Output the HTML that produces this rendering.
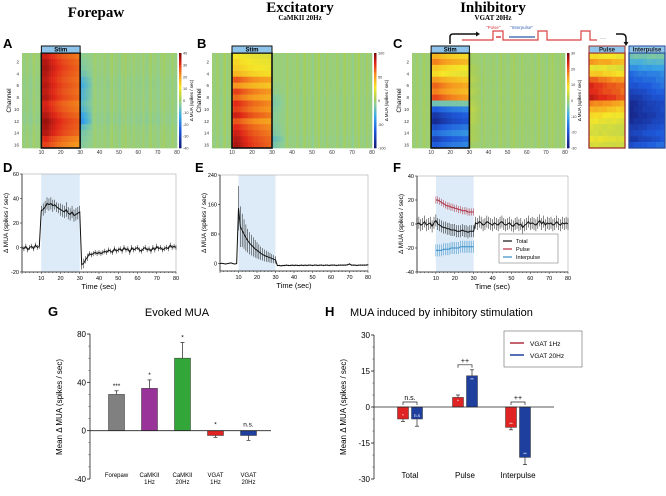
<!DOCTYPE html>
<html><head><meta charset="utf-8">
<style>
html,body{margin:0;padding:0;background:#fff;}
svg{display:block;font-family:"Liberation Sans",sans-serif;}
.ttl{font-family:"Liberation Serif",serif;font-weight:bold;}
</style></head>
<body>
<svg id="fig" width="666" height="496" viewBox="0 0 666 496" xmlns="http://www.w3.org/2000/svg">
<text class="ttl" x="96" y="17" font-size="15" text-anchor="middle">Forepaw</text>
<text class="ttl" x="300" y="12" font-size="15" text-anchor="middle">Excitatory</text>
<text class="ttl" x="300" y="20" font-size="7" text-anchor="middle">CaMKII 20Hz</text>
<text class="ttl" x="493" y="12" font-size="15" text-anchor="middle">Inhibitory</text>
<text class="ttl" x="493" y="20" font-size="7" text-anchor="middle">VGAT 20Hz</text>
<g font-weight="bold" font-size="13">
<text x="3" y="48">A</text>
<text x="197" y="48">B</text>
<text x="393" y="48">C</text>
<text x="3" y="172">D</text>
<text x="195" y="172">E</text>
<text x="393" y="172">F</text>
<text x="48" y="316">G</text>
<text x="325" y="316">H</text>
</g>
<text x="177" y="316" font-size="11" text-anchor="middle">Evoked MUA</text>
<text x="350" y="316" font-size="11">MUA induced by inhibitory stimulation</text>
<g>
<polyline points="462,40 493,40 493,31 503,31 503,40 538,40 538,31 547,31 547,40 581,40 581,31 590,31 590,40 597,40" fill="none" stroke="#d94040" stroke-width="1.2"/>
<text x="600" y="40" font-size="6" fill="#555">···</text>
<text x="486" y="29" font-size="4.5" fill="#d94040">"Pulse"</text>
<text x="510" y="29" font-size="4.5" fill="#3a66b8">"Interpulse"</text>
<line x1="496" y1="37" x2="501" y2="37" stroke="#d94040" stroke-width="1.5"/>
<line x1="509" y1="37" x2="535" y2="37" stroke="#2a5aaa" stroke-width="1.2"/>
<path d="M450,44 L450,37 Q450,34 453,34 L476,34" fill="none" stroke="#111" stroke-width="1.5"/>
<polygon points="476,31.5 480,34 476,36.5" fill="#111"/>
<path d="M616,34 L622,34 Q626,34 626,38 L626,42" fill="none" stroke="#111" stroke-width="1.5"/>
<polygon points="623.5,42 626,46 628.5,42" fill="#111"/>
</g>
<g id="heat"></g>
<g id="lines"></g>
<g id="bars"></g>
</svg>
<script>
const channels = [1,2,3,4,5,6,7,8,9,10,11,12,13,14,15,16];
const chanTicks = [2,4,6,8,10,12,14,16];
const timeTicks = [10,20,30,40,50,60,70,80];
const aStim = [34,36,37,36,35,36,35,36,33,34,36,38,37,36,32,30];
const aPost = [-2,-3,-4,-6,-10,-12,-10,-10,-8,-10,-14,-16,-8,-5,-4,-3];
const bStim = [30,35,38,45,70,55,75,65,80,75,85,70,80,85,90,92];
const bPost = [0,0,0,0,0,-2,-3,-8,-10,-8,-6,-6,-8,-10,-18,-12];
const cStim = [14,18,12,10,16,20,18,22,-4,-18,-24,-26,-20,-16,-22,-18];
const cPost = [1,1,2,2,3,2,3,2,3,4,3,3,2,2,2,1];
const pulseVals = [10,16,8,12,20,24,24,26,18,14,10,8,6,6,8,6];
const interVals = [-4,-8,-12,-16,-18,-20,-22,-24,-26,-26,-27,-26,-24,-22,-24,-20];
const stimShape = [0.95,1,1,0.98,0.95,0.92,0.9,0.88,0.85,0.84,0.82,0.8,0.8,0.78,0.77,0.76,0.75,0.74,0.73,0.72];
const stripe = [0.2,-0.3,0.6,0.1,-0.5,0.3,0.9,-0.2,0.4,0,-0.6,0.5,0.2,1,-0.1,0.3,-0.4,0.7,0.1,-0.2];
const NS='http://www.w3.org/2000/svg';
function mk(tag,attrs,parent){const e=document.createElementNS(NS,tag);for(const k in attrs)e.setAttribute(k,attrs[k]);parent.appendChild(e);return e;}
function lin(d0,d1,r0,r1){return v=>r0+(v-d0)*(r1-r0)/(d1-d0);}
const cmapStops=[[-1,[20,20,110]],[-0.6,[30,90,220]],[-0.3,[60,170,230]],[-0.05,[140,205,150]],[0.05,[168,206,90]],[0.3,[245,230,40]],[0.55,[245,150,30]],[0.8,[225,40,25]],[1,[130,10,10]]];
function cmap(v){v=Math.max(-1,Math.min(1,v));for(let i=1;i<cmapStops.length;i++){if(v<=cmapStops[i][0]){const a=cmapStops[i-1],b=cmapStops[i];const f=(v-a[0])/(b[0]-a[0]);const c=a[1].map((x,j)=>Math.round(x+(b[1][j]-x)*f));return `rgb(${c})`;}}return 'rgb(130,10,10)';}
const heat=document.getElementById('heat');
function heatmap(name,x0,x1,y0,y1,stim,post,range,cbTicks){
  const g=mk('g',{},heat);
  
  
  const xs=lin(0,80,x0,x1), ys=lin(0.5,16.5,y0,y1);
  for(const c of channels){
    for(let t=0;t<80;t++){
      let v;
      if(t>=10&&t<30) v=stim[c-1]*stimShape[t-10];
      else if(t>=30&&t<36) v=post[c-1]*(1-(t-30)/8);
      else v=post[c-1]*0.08+stripe[t%20]*range*0.05;
      const r=mk('rect',{x:xs(t),y:ys(c-0.5),width:xs(t+1)-xs(t)+0.3,height:ys(c+0.5)-ys(c-0.5)+0.3,fill:cmap(v/range)},g);
      
      
    }
  }
  const sb=mk('rect',{x:xs(10),y:y0,width:xs(30)-xs(10),height:y1-y0,fill:'none',stroke:'#111','stroke-width':1.6},g);
  
  
  mk('rect',{x:xs(10),y:y0-7,width:xs(30)-xs(10),height:7,fill:'#8ec3ea',stroke:'#111','stroke-width':1},g);
  const st=mk('text',{x:(xs(10)+xs(30))/2,y:y0-1.5,'font-size':6,'font-weight':'bold','text-anchor':'middle'},g);st.textContent='Stim';
  
  
  for(const c of chanTicks){const t=mk('text',{x:x0-3,y:ys(c)+1.5,'font-size':4.5,'text-anchor':'end',fill:'#333'},g);t.textContent=c;}
  for(const tt of timeTicks){const t=mk('text',{x:xs(tt),y:y1+6,'font-size':5,'text-anchor':'middle',fill:'#333'},g);t.textContent=tt;}
  const ch=mk('text',{transform:`translate(${x0-11},${(y0+y1)/2}) rotate(-90)`,'font-size':6.5,'text-anchor':'middle'},g);ch.textContent='Channel';
  const cbx=x1+2;
  for(let i=0;i<40;i++){const v=1-i/20;mk('rect',{x:cbx,y:y0+i*(y1-y0)/40,width:2.5,height:(y1-y0)/40+0.3,fill:cmap(v)},g);}
  cbTicks.forEach((v,i)=>{const t=mk('text',{x:cbx+4,y:y0+i*(y1-y0)/(cbTicks.length-1)+1.5,'font-size':3.8,fill:'#333'},g);t.textContent=v;});
  const cl=mk('text',{transform:`translate(${cbx+14},${(y0+y1)/2}) rotate(-90)`,'font-size':4.5,'text-anchor':'middle'},g);cl.textContent='Δ MUA (spikes / sec)';
}
heatmap('heatmap-forepaw',22,177,53,148,aStim,aPost,40,[40,30,20,10,0,-10,-20,-30,-40]);
heatmap('heatmap-excitatory',212,372,53,148,bStim,bPost,100,[100,50,0,-50,-100]);
heatmap('heatmap-inhibitory',412,565,53,148,cStim,cPost,30,[30,20,10,0,-10,-20,-30]);
function sidePanel(name,label,x0,x1,vals,frame){
  const g=mk('g',{},heat);
  
  
  const ys=lin(0.5,16.5,53,148);
  for(const c of channels){for(let k=0;k<8;k++){const v=vals[c-1]*(1-k*0.03)+stripe[(k+c)%20]*0.8;mk('rect',{x:x0+k*(x1-x0)/8,y:ys(c-0.5),width:(x1-x0)/8+0.3,height:ys(c+0.5)-ys(c-0.5)+0.3,fill:cmap(v/30)},g);}}
  mk('rect',{x:x0,y:53,width:x1-x0,height:95,fill:'none',stroke:frame,'stroke-width':1.3},g);
  mk('rect',{x:x0,y:46,width:x1-x0,height:7,fill:'#8ec3ea',stroke:frame,'stroke-width':1},g);
  const t=mk('text',{x:(x0+x1)/2,y:51.5,'font-size':6,'font-weight':'bold','text-anchor':'middle',fill:'#222'},g);t.textContent=label;
}
sidePanel('pulse-heatmap','Pulse',589,625,pulseVals,'#a0302a');
sidePanel('interpulse-heatmap','Interpulse',629,665,interVals,'#2a4a9a');

const dMean=[0,-1,1,-2,0,1,-1,2,0,1, 30,31,33,36,35,36,34,35,33,32,31,30,29,31,28,27,29,26,27,28,29, -14,-13,-10,-8,-5,-6,-5,-4,-5,-4, -5,-4,-3,-4,-2,-3,-4,-1,-3,-2, -1,-3,0,-2,-1,-4,0,-2,-1,0, -2,-3,-1,0,-2,-1,-3,0,-2,1, -1,0,-2,-1,0,-1,2,0,1,0];
const dErr=[2,2,2,2,2,2,2,2,2,2, 4,5,5,5,5,5,5,4,4,4,5,5,5,6,5,5,5,5,5,5,5, 4,4,3,3,2,2,2,2,2,2, 2,2,2,2,2,2,2,2,2,2, 2,2,2,2,2,2,2,2,2,2, 2,2,2,2,2,2,2,2,2,2, 2,2,2,2,2,2,2,2,2,2];
const eMean=[0,1,0,-1,0,1,2,0,-1,0, 150,100,90,80,70,62,55,50,45,40,36,32,28,25,22,20,18,16,14,12,10, -5,-5,-6,-5,-5,-4,-5,-5,-4,-5, -4,-5,-5,-4,-5,-4,-5,-4,-4,-5, -4,-4,-5,-4,-4,-5,-4,-4,-5,-4, -4,-4,-5,-4,-4,-4,-4,-4,-3,-1, -4,-4,-4,-5,-4,-4,-4,-4,-4,-3];
const eErr=[1,1,1,1,1,1,1,1,1,1, 60,55,45,40,36,32,30,28,26,24,22,20,18,17,16,15,14,13,12,11,10, 2,2,2,2,2,2,2,2,2,2, 2,2,2,2,2,2,2,2,2,2, 2,2,2,2,2,2,2,2,2,2, 2,2,2,2,2,2,2,2,2,2, 2,2,2,2,2,2,2,2,2,2];
const fTotal=[0,1,-1,0,2,-1,0,1,-2,1, 3,0,-1,-2,-3,-3,-4,-4,-5,-5,-5,-6,-6,-6,-5,-6,-6,-7,-6,-6,-6, 1,0,2,1,-1,0,2,1,0,-1, 1,0,-1,1,2,0,-1,0,1,-1, -2,0,1,-1,0,-3,-1,0,2,0, 1,0,-1,1,3,0,2,-1,1,0, 1,-1,0,2,0,-1,1,0,1,0];
const fPulse=[20,20,19,18,17,16,15,15,14,14,13,13,12,12,11,11,11,10,10,10,10];
const fInter=[-22,-22,-22,-22,-21,-21,-21,-21,-20,-20,-20,-20,-20,-19,-19,-19,-19,-19,-19,-19,-19];
const fErrTot=5, fErrPulse=3, fErrInter=5;
const lines=document.getElementById('lines');
function linePlot(name,x0,x1,ymin,ymax,py0,py1,yticks,label){
  const g=mk('g',{},lines);
  
  
  const xs=lin(0,80,x0,x1), ys=lin(ymin,ymax,py1,py0);
  mk('rect',{x:xs(10),y:py0,width:xs(30)-xs(10),height:py1-py0,fill:'#dcebf7'},g);
  mk('rect',{x:x0,y:py0,width:x1-x0,height:py1-py0,fill:'none',stroke:'#aaa','stroke-width':0.6},g);
  mk('line',{x1:x0,y1:py0,x2:x0,y2:py1,stroke:'#222','stroke-width':0.8},g);
  mk('line',{x1:x0,y1:py1,x2:x1,y2:py1,stroke:'#222','stroke-width':0.8},g);
  for(const v of yticks){mk('line',{x1:x0-2,y1:ys(v),x2:x0,y2:ys(v),stroke:'#222','stroke-width':0.6},g);const t=mk('text',{x:x0-3,y:ys(v)+2,'font-size':5.5,'text-anchor':'end'},g);t.textContent=v;}
  for(let t=0;t<=80;t+=2){mk('line',{x1:xs(t),y1:py1,x2:xs(t),y2:py1+(t%10?1:2),stroke:'#222','stroke-width':0.5},g);}
  for(const v of timeTicks){const t=mk('text',{x:xs(v),y:py1+8,'font-size':5.5,'text-anchor':'middle'},g);t.textContent=v;}
  const tl=mk('text',{x:(x0+x1)/2,y:py1+17,'font-size':7.5,'text-anchor':'middle'},g);tl.textContent='Time (sec)';
  const yl=mk('text',{transform:`translate(${x0-14},${(py0+py1)/2}) rotate(-90)`,'font-size':6.5,'text-anchor':'middle'},g);yl.textContent=label;
  return {g,xs,ys};
}
function series(p,name,t0,vals,errs,color){
  const g=mk('g',{},p.g);
  
  
  vals.forEach((v,i)=>{const e=Array.isArray(errs)?errs[i]:errs;mk('line',{x1:p.xs(t0+i),y1:p.ys(v-e),x2:p.xs(t0+i),y2:p.ys(v+e),stroke:color,'stroke-width':0.5},g);});
  mk('polyline',{points:vals.map((v,i)=>p.xs(t0+i)+','+p.ys(v)).join(' '),fill:'none',stroke:color,'stroke-width':1},g);
}
const pD=linePlot('forepaw-timecourse',22,176,-20,60,174,272,[-20,0,20,40,60],'Δ MUA (spikes / sec)');
series(pD,'forepaw-series',0,dMean,dErr,'#111');
const pE=linePlot('excitatory-timecourse',220,368,-20,240,175,271,[0,80,160,240],'Δ MUA (spikes / sec)');
series(pE,'excitatory-series',0,eMean,eErr,'#111');
const pF=linePlot('inhibitory-timecourse',417,568,-40,40,176,272,[-40,-20,0,20,40],'Δ MUA (spikes / sec)');
series(pF,'pulse-series',10,fPulse,fErrPulse,'#b03040');
series(pF,'interpulse-series',10,fInter,fErrInter,'#3a8fc8');
series(pF,'total-series',0,fTotal,fErrTot,'#111');
const leg=mk('g',{},pF.g);


mk('rect',{x:499,y:234,width:59,height:29,fill:'#fff',stroke:'#666','stroke-width':0.5},leg);
[['Total','#111'],['Pulse','#b03040'],['Interpulse','#3a8fc8']].forEach((d,i)=>{mk('line',{x1:503,y1:241+i*8,x2:512,y2:241+i*8,stroke:d[1],'stroke-width':1.2},leg);const t=mk('text',{x:516,y:243+i*8,'font-size':5.5},leg);t.textContent=d[0];});

const gCats=['Forepaw','CaMKII|1Hz','CaMKII|20Hz','VGAT|1Hz','VGAT|20Hz'];
const gVals=[30,35,60,-4,-4];
const gErrs=[3,7,13,1.5,4];
const gSig=['***','*','*','*','n.s.'];
const gColors=['#808080','#993399','#33a63a','#e02424','#1f3f9f'];
const hCats=['Total','Pulse','Interpulse'];
const h1Vals=[-5,4,-8.5];
const h1Errs=[1,1,1];
const h20Vals=[-5,13,-21];
const h20Errs=[3,2.5,3];
const h1Sig=['*','*','**'];
const h20Sig=['n.s','**','**'];
const hBracket=['n.s.','++','++'];
const bars=document.getElementById('bars');
function axisY(g,x,ys,ticks,minor){
  mk('line',{x1:x,y1:ys(ticks[0]),x2:x,y2:ys(ticks[ticks.length-1]),stroke:'#222','stroke-width':0.8},g);
  for(const v of ticks){mk('line',{x1:x-3,y1:ys(v),x2:x,y2:ys(v),stroke:'#222','stroke-width':0.8},g);const t=mk('text',{x:x-4,y:ys(v)+3,'font-size':8,'text-anchor':'end'},g);t.textContent=v;}
  for(let v=ticks[0];v<=ticks[ticks.length-1];v+=minor)mk('line',{x1:x-1.5,y1:ys(v),x2:x,y2:ys(v),stroke:'#222','stroke-width':0.5},g);
}
{
  const g=mk('g',{},bars);
  
  
  const ys=lin(-40,80,479,334);
  axisY(g,90,ys,[-40,0,40,80],10);
  const yl=mk('text',{transform:`translate(62,407) rotate(-90)`,'font-size':8,'text-anchor':'middle'},g);yl.textContent='Mean Δ MUA (spikes / sec)';
  const xs=i=>116.5+i*33;
  gVals.forEach((v,i)=>{
    const cx=xs(i),w=16,top=Math.min(ys(v),ys(0)),h=Math.abs(ys(v)-ys(0));
    const end=v>=0?v+gErrs[i]:v-gErrs[i];
    mk('line',{x1:cx,y1:ys(v),x2:cx,y2:ys(end),stroke:'#222','stroke-width':0.7},g);
    mk('line',{x1:cx-2,y1:ys(end),x2:cx+2,y2:ys(end),stroke:'#222','stroke-width':0.7},g);
    const r=mk('rect',{x:cx-w/2,y:top,width:w,height:h,fill:gColors[i],stroke:'#333','stroke-width':0.5},g);
    
    
    const sy=v>=0?ys(v+gErrs[i])-3:ys(0)-4;
    const s=mk('text',{x:cx,y:sy,'font-size':6.5,'text-anchor':'middle'},g);s.textContent=gSig[i];
    gCats[i].split('|').forEach((p,k)=>{const t=mk('text',{x:cx,y:477+k*7,'font-size':6,'text-anchor':'middle'},g);t.textContent=p;});
  });
  mk('line',{x1:90,y1:ys(0),x2:271,y2:ys(0),stroke:'#222','stroke-width':0.8},g);
}
{
  const g=mk('g',{},bars);
  
  
  const ys=lin(-30,30,479,335);
  axisY(g,374,ys,[-30,-15,0,15,30],5);
  const yl=mk('text',{transform:`translate(346,407) rotate(-90)`,'font-size':8,'text-anchor':'middle'},g);yl.textContent='Mean Δ MUA (spikes / sec)';
  const centers=[410,465,518];
  hCats.forEach((c,i)=>{
    const groups=[[h1Vals[i],h1Errs[i],'#e02424',h1Sig[i],-7],[h20Vals[i],h20Errs[i],'#1f3f9f',h20Sig[i],7]];
    groups.forEach(([v,e,col,sig,off])=>{
      const cx=centers[i]+off,w=11;
      const end=v>=0?v+e:v-e;
      mk('line',{x1:cx,y1:ys(v),x2:cx,y2:ys(end),stroke:'#222','stroke-width':0.7},g);
      mk('line',{x1:cx-2,y1:ys(end),x2:cx+2,y2:ys(end),stroke:'#222','stroke-width':0.7},g);
      const r=mk('rect',{x:cx-w/2,y:Math.min(ys(v),ys(0)),width:w,height:Math.abs(ys(v)-ys(0)),fill:col,stroke:'#333','stroke-width':0.5},g);
      
      
      const ty=v>=0?ys(v)+5:ys(v)-2;
      const s=mk('text',{x:cx,y:ty,'font-size':4.5,'text-anchor':'middle',fill:'#fff'},g);s.textContent=sig;
    });
    const top=Math.max(h1Vals[i]+h1Errs[i],h20Vals[i]+h20Errs[i],0);
    const by=ys(top)-5;
    mk('path',{d:`M${centers[i]-7},${by+3} L${centers[i]-7},${by} L${centers[i]+7},${by} L${centers[i]+7},${by+3}`,fill:'none',stroke:'#222','stroke-width':0.7},g);
    const bt=mk('text',{x:centers[i],y:by-2,'font-size':7,'text-anchor':'middle'},g);bt.textContent=hBracket[i];
    const lt=mk('text',{x:centers[i],y:478,'font-size':8,'text-anchor':'middle'},g);lt.textContent=c;
  });
  mk('line',{x1:374,y1:ys(0),x2:554,y2:ys(0),stroke:'#222','stroke-width':0.8},g);
  const leg=mk('g',{},g);
  
  
  mk('rect',{x:504,y:331,width:78,height:36,fill:'#fff',stroke:'#666','stroke-width':0.6},leg);
  [['VGAT 1Hz','#b03040'],['VGAT 20Hz','#1f3f9f']].forEach((d,i)=>{mk('line',{x1:510,y1:343+i*12,x2:524,y2:343+i*12,stroke:d[1],'stroke-width':1.5},leg);const t=mk('text',{x:530,y:346+i*12,'font-size':6.5},leg);t.textContent=d[0];});
}
</script>
</body></html>
